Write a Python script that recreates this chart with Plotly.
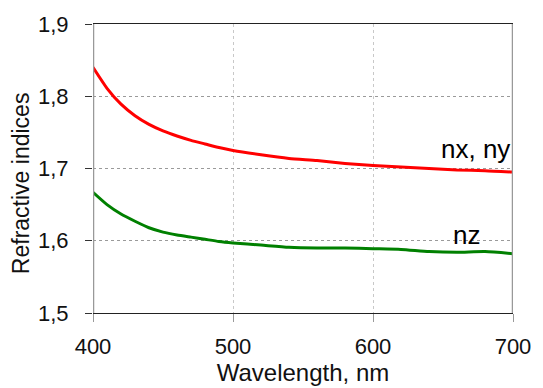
import plotly.graph_objects as go

# Wavelength grid (nm) and refractive indices of the film
wavelength = [400, 410, 420, 430, 440, 450, 460, 470, 480, 490, 500,
              520, 540, 560, 580, 600, 620, 640, 660, 680, 700]
n_xy = [1.840, 1.811, 1.789, 1.773, 1.761, 1.752, 1.745, 1.739, 1.734, 1.729, 1.725,
        1.719, 1.714, 1.711, 1.707, 1.704, 1.702, 1.700, 1.698, 1.697, 1.695]
n_z = [1.667, 1.650, 1.637, 1.627, 1.618, 1.612, 1.608, 1.605, 1.602, 1.599, 1.597,
       1.594, 1.591, 1.590, 1.590, 1.589, 1.588, 1.585, 1.584, 1.585, 1.582]

x_ticks = [400, 500, 600, 700]
y_ticks = [1.5, 1.6, 1.7, 1.8, 1.9]

FONT = "Liberation Sans, Arial, sans-serif"

fig = go.Figure()
fig.add_trace(go.Scatter(x=wavelength, y=n_xy, mode="lines", name="nx, ny",
                         line=dict(color="#ff0000", width=3, shape="spline", smoothing=0.6)))
fig.add_trace(go.Scatter(x=wavelength, y=n_z, mode="lines", name="nz",
                         line=dict(color="#008000", width=3, shape="spline", smoothing=0.6)))

fig.add_annotation(x=673, y=1.727, text="nx, ny", showarrow=False,
                   font=dict(family=FONT, size=26, color="#000"))
fig.add_annotation(x=667, y=1.608, text="nz", showarrow=False,
                   font=dict(family=FONT, size=26, color="#000"))

# Vertical axis title, placed beside the tick labels
fig.add_annotation(xref="paper", yref="paper", x=-0.171, y=0.45,
                   xanchor="center", yanchor="middle",
                   text="Refractive indices", textangle=-90, showarrow=False,
                   font=dict(family=FONT, size=23, color="#111"))

fig.update_layout(
    width=543, height=388,
    margin=dict(l=93, r=22, t=21, b=74),
    paper_bgcolor="white", plot_bgcolor="white",
    separators=",.",
    showlegend=False,
    font=dict(family=FONT, size=22, color="#111"),
    xaxis=dict(
        range=[400, 700], tickvals=x_ticks,
        showline=True, mirror=True, linecolor="#222", linewidth=1,
        ticks="outside", ticklen=8, tickcolor="#999", tickwidth=1,
        showgrid=True, gridcolor="#c8c8c8", griddash="dot", gridwidth=1,
        zeroline=False, ticklabelstandoff=6,
        title=dict(text="Wavelength, nm", standoff=0, font=dict(size=24)),
        tickfont=dict(size=22),
    ),
    yaxis=dict(
        range=[1.5, 1.9], tickvals=y_ticks, tickformat=".1f",
        showline=False,
        ticks="outside", ticklen=7, tickcolor="#333", tickwidth=1,
        showgrid=True, gridcolor="#9a9a9a", griddash="dot", gridwidth=1,
        zeroline=False, ticklabelstandoff=12,
        tickfont=dict(size=22),
    ),
)

# Gray vertical frame lines on both sides of the plot area
for xv in (400, 700):
    fig.add_shape(type="line", xref="x", yref="paper", x0=xv, x1=xv, y0=0, y1=1,
                  line=dict(color="#999999", width=2.5), layer="above")

fig.write_html("out.html")
